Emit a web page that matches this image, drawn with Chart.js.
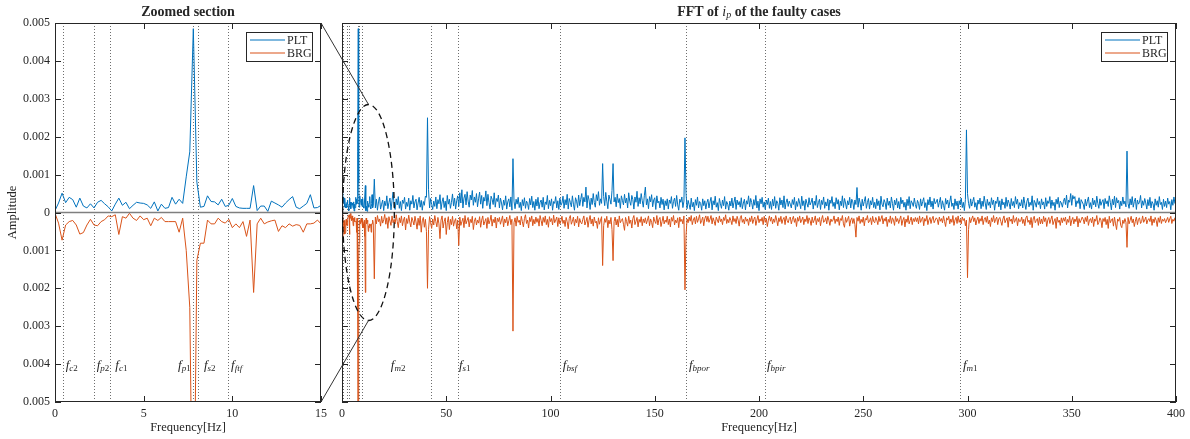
<!DOCTYPE html>
<html>
<head>
<meta charset="utf-8">
<script src="https://cdn.jsdelivr.net/npm/chart.js@4.4.1/dist/chart.umd.min.js"></script>
<style>
  html, body { margin: 0; padding: 0; background: #fff; }
  body { width: 1190px; height: 439px; position: relative; overflow: hidden; }
  .box { position: absolute; top: 0; height: 439px; }
</style>
</head>
<body>
<div class="box" style="left:0;width:340px"><canvas id="zoomCanvas"></canvas></div>
<div class="box" style="left:320px;width:870px"><canvas id="fftCanvas"></canvas></div>
<script>
// FFT of i_p, faulty cases — amplitudes in units of 1e-5, BRG stored as magnitude (drawn downward)
const AMP_UNIT = 1e-5;

// zoomed section: 0..15 Hz, 0.2 Hz bins
const zoomStep = 0.2;
const zoomPLT = [
  5, 25, 51, 26, 40, 34, 14, 38, 17, 12,
  23, 12, 27, 32, 23, 15, 4, 22, 38, 19,
  27, 10, 19, 27, 25, 24, 20, 11, 28, 4,
  22, 11, 13, 40, 22, 35, 24, 94, 160, 485,
  80, 14, 16, 44, 29, 28, 20, 35, 16, 19,
  37, 16, 12, 11, 11, 11, 71, 5, 17, 17,
  3, 30, 25, 20, 14, 25, 34, 42, 14, 10,
  17, 24, 47, 12, 13, 19
];
const zoomBRG = [
  2, 28, 73, 33, 24, 21, 33, 57, 53, 33,
  18, 33, 35, 24, 19, 9, 11, 6, 58, 11,
  15, 2, 15, 21, 9, 19, 15, 35, 15, 21,
  13, 24, 24, 24, 24, 52, 15, 100, 250, 1000,
  126, 81, 81, 20, 30, 30, 15, 24, 28, 18,
  40, 30, 40, 24, 63, 20, 211, 30, 15, 30,
  25, 22, 20, 50, 35, 40, 30, 36, 32, 34,
  52, 30, 30, 28, 20, 30
];

// rest of the spectrum: 15.5..400 Hz, 0.5 Hz bins (one row = 10 Hz)
const restStart = 15.5;
const restStep = 0.5;
const restPLT = [
  88,12,35,6,28,41,9,22,33,5,30,18,44,10,26,38,7,31,54,15,
  8,36,20,42,11,29,5,33,24,40,9,27,16,38,6,31,22,45,12,28,
  35,7,25,40,14,32,6,29,19,43,40,250,60,12,37,21,8,30,16,41,
  10,34,23,47,8,28,39,13,30,5,45,22,35,11,27,49,17,38,9,31,
  44,16,52,25,60,12,38,48,20,55,30,14,46,33,58,19,41,27,50,15,
  36,54,22,45,11,40,30,57,18,48,26,9,43,35,21,52,14,37,29,46,
  12,38,25,7,33,19,44,9,28,36,15,41,6,142,30,10,35,22,40,13,
  27,5,34,18,39,11,30,24,8,37,20,43,13,29,6,35,17,40,10,26,
  33,14,40,7,28,21,45,10,32,18,36,6,29,24,42,12,31,8,38,19,
  25,43,11,34,20,48,9,37,27,15,44,22,6,39,30,13,46,18,35,50,
  16,40,28,67,12,45,33,8,38,21,50,26,14,47,31,55,19,36,24,129,
  42,18,53,30,10,46,35,22,58,129,28,40,15,49,26,37,11,44,32,20,
  48,25,38,12,52,30,19,45,34,9,41,27,56,16,39,23,50,31,14,44,
  67,20,36,10,42,28,47,15,33,39,8,44,25,30,12,40,21,35,7,31,
  18,36,9,33,24,42,11,29,38,16,45,20,6,35,27,41,13,30,197,50,
  10,32,21,8,38,15,27,5,34,19,41,12,29,24,6,36,18,31,9,26,
  35,12,28,40,7,31,20,43,14,26,5,37,23,11,33,18,42,9,29,22,
  6,30,17,38,12,27,41,8,33,20,29,14,39,10,25,35,7,31,22,44,
  15,37,26,9,34,19,45,12,30,5,36,23,40,14,28,8,33,21,38,11,
  29,8,35,17,42,11,31,24,6,39,20,33,13,44,9,27,36,16,30,22,
  12,34,21,40,7,29,16,37,25,10,43,18,31,6,35,24,14,39,20,27,
  38,9,30,19,45,13,26,35,8,32,21,41,11,28,17,36,6,33,24,42,
  16,27,10,39,22,34,7,30,18,44,13,37,25,9,31,20,40,12,35,28,
  8,33,21,66,14,38,25,6,35,17,29,42,11,26,37,9,31,20,40,13,
  27,10,36,18,31,7,43,22,15,34,26,8,38,19,30,12,41,24,6,33,
  20,37,12,29,9,40,23,33,14,27,6,35,18,42,10,31,25,16,38,21,
  11,32,24,8,36,17,29,39,13,26,5,34,20,41,15,30,9,37,23,28,
  35,14,27,40,10,31,19,6,37,22,33,12,28,44,16,25,8,36,18,30,
  9,31,20,38,13,27,5,34,218,50,24,11,36,17,29,40,14,26,7,33,
  22,38,10,30,16,43,25,8,35,19,28,12,39,21,33,6,30,24,41,15,
  31,7,36,20,27,11,40,16,33,24,9,37,18,29,13,42,22,35,10,26,
  17,34,12,41,23,8,30,38,15,27,19,44,6,32,25,14,37,21,29,10,
  36,20,28,9,39,16,31,24,42,11,33,18,27,6,35,22,40,13,30,25,
  14,29,38,21,46,12,33,27,50,19,45,36,42,15,31,24,39,10,34,28,
  22,8,35,17,30,41,13,26,9,38,20,32,15,43,24,11,36,19,28,34,
  10,37,23,31,16,44,27,7,35,20,43,13,39,25,32,9,30,18,41,22,
  30,15,162,24,11,36,20,42,14,29,38,8,33,22,27,45,12,31,19,37,
  25,9,34,18,40,12,29,23,6,36,19,31,14,42,21,27,8,35,16,30,
  13,38,22,29,7,34,19,41,24,32
];
const restBRG = [
  175,12,30,8,24,17,36,10,28,19,5,31,14,42,11,23,34,9,27,18,
  30,6,24,40,14,27,9,35,20,12,46,16,29,7,25,38,13,22,33,10,
  25,44,15,34,9,52,22,13,39,18,50,200,45,11,27,42,17,33,8,24,
  38,13,30,69,20,9,41,24,14,58,27,11,45,18,32,10,36,23,16,43,
  20,87,12,34,24,15,40,8,30,21,13,38,18,27,10,45,23,14,33,20,
  28,11,39,20,9,33,24,16,42,13,30,21,7,36,18,27,12,41,15,24,
  13,31,20,9,38,17,27,12,35,22,8,32,18,313,27,14,36,10,26,20,
  33,10,24,38,16,6,29,20,41,13,24,9,35,18,30,12,26,16,36,8,
  21,35,13,26,9,32,18,39,11,24,16,33,7,27,20,12,37,14,30,23,
  10,29,20,37,13,24,43,16,8,31,23,12,35,18,27,10,38,16,26,30,
  18,9,33,24,13,39,20,8,30,17,36,12,27,23,42,14,31,20,11,140,
  35,16,26,10,40,20,30,13,45,127,24,12,33,18,38,9,27,21,16,31,
  47,13,24,36,10,29,20,41,16,8,32,23,13,38,18,26,11,35,17,27,
  14,30,20,9,35,17,26,40,12,23,29,8,33,18,13,37,24,10,30,20,
  26,10,32,17,38,13,23,8,33,20,27,14,40,12,24,18,30,9,204,60,
  17,27,12,23,8,32,20,13,30,10,26,17,6,29,21,12,35,16,9,24,
  10,26,18,8,30,14,23,34,12,20,27,9,24,17,32,13,21,6,29,18,
  27,13,21,32,9,24,16,29,10,20,36,14,8,26,18,30,12,23,17,34,
  14,24,9,29,18,12,34,20,8,27,17,23,13,32,10,26,16,37,20,9,
  23,12,30,17,26,8,20,35,14,24,10,29,18,13,32,9,21,27,16,12,
  30,18,10,26,16,37,13,23,9,27,20,12,32,17,24,8,29,14,21,34,
  12,27,20,9,32,16,24,13,35,18,8,26,23,14,30,10,20,34,17,24,
  20,9,29,17,24,12,34,16,21,8,30,39,13,26,18,10,36,20,14,29,
  16,32,65,13,23,9,29,18,26,12,35,16,20,8,27,23,14,32,10,24,
  27,13,20,32,10,24,17,8,30,16,23,12,37,18,26,9,29,14,20,34,
  10,24,16,29,18,9,34,20,13,38,17,26,8,30,21,12,32,16,24,13,
  24,14,30,9,26,18,12,35,16,23,8,32,20,13,29,17,10,27,21,14,
  18,32,12,23,16,27,9,24,37,14,20,10,30,17,26,8,34,20,13,29,
  9,26,18,30,12,21,16,35,20,172,45,13,27,17,9,24,14,33,20,12,
  29,16,23,9,32,18,13,26,10,30,20,37,14,24,8,27,18,12,32,17,
  13,24,34,17,9,27,20,14,39,12,23,17,30,8,26,20,13,35,16,24,
  23,12,29,18,35,14,9,26,20,32,13,40,17,10,27,21,16,34,12,30,
  17,30,10,24,14,37,20,13,29,18,9,32,23,16,42,12,26,20,34,14,
  27,14,23,12,32,18,26,9,35,20,13,30,17,24,10,38,16,27,20,12,
  18,30,13,24,9,34,20,16,27,12,37,17,23,8,32,26,14,20,40,16,
  24,13,32,18,42,10,27,20,16,36,12,30,45,17,23,13,34,40,20,29,
  16,26,92,13,30,20,10,27,17,37,23,12,32,18,14,29,24,9,26,20,
  12,30,20,16,24,9,34,17,27,13,21,37,14,26,10,29,18,23,16,27,
  20,13,26,17,10,29,18,23,14,20
];

// characteristic frequencies (Hz) and where their labels start (Hz)
const lowNames = ['c2', 'p2', 'c1', 'p1', 's2', 'ftf'];
const lowFreqs = [0.43, 2.18, 3.12, 7.8, 8.05, 9.76];
const lowLabelX = [0.6, 2.35, 3.4, 6.94, 8.4, 9.93];
const highNames = ['m2', 's1', 'bsf', 'bpor', 'bpir', 'm1'];
const highFreqs = [42.7, 55.5, 104.4, 165.2, 202.9, 296.4];
const highLabelX = [23.4, 56.1, 105.9, 166.4, 203.8, 297.8];
const labelAmp = -0.00405;

// dashed ellipse marking the zoomed area on the full spectrum
const ringCenter = [12.7, 0];
const ringRadius = [12.4, 0.00285];

const FONT = "'Liberation Serif', 'DejaVu Serif', serif";
const INK = '#262626';
const BLUE = '#0072BD';
const ORANGE = '#D95319';

const zoomFreq = zoomPLT.map((_, i) => i * zoomStep);
const restFreq = restPLT.map((_, i) => restStart + i * restStep);
const pts = (xs, vs, sign) => vs.map((v, i) => ({ x: xs[i], y: sign * v * AMP_UNIT }));

let zoomChart = null;

function richText(ctx, parts, x, y, align) {
  let w = 0;
  parts.forEach(p => { ctx.font = p.font; w += ctx.measureText(p.t).width; });
  let cx = align === 'center' ? x - w / 2 : align === 'right' ? x - w : x;
  ctx.textBaseline = 'middle';
  ctx.textAlign = 'left';
  parts.forEach(p => {
    ctx.font = p.font;
    ctx.fillText(p.t, cx, y + (p.dy || 0));
    cx += ctx.measureText(p.t).width;
  });
}

function freqLabel(name) {
  const parts = [{ t: 'f', font: 'italic 13px ' + FONT }];
  for (const ch of name) {
    parts.push({ t: ch, font: (/\d/.test(ch) ? '' : 'italic ') + '9px ' + FONT, dy: 3 });
  }
  return parts;
}

function makeDecor(cfg) {
  return {
    id: 'decor',
    beforeDatasetsDraw(chart) {
      const { ctx, chartArea: a, scales: { x } } = chart;
      ctx.save();
      ctx.strokeStyle = '#6e6e6e';
      ctx.lineWidth = 1;
      ctx.setLineDash([1, 2]);
      cfg.lines.forEach(f => {
        const px = Math.round(x.getPixelForValue(f)) + 0.5;
        ctx.beginPath(); ctx.moveTo(px, a.top); ctx.lineTo(px, a.bottom); ctx.stroke();
      });
      ctx.restore();
    },
    afterDatasetsDraw(chart) {
      const { ctx, chartArea: a, scales: { x, y } } = chart;
      ctx.save();
      // zero line
      const y0 = y.getPixelForValue(0);
      ctx.strokeStyle = '#7f7f7f'; ctx.lineWidth = 1.5;
      ctx.beginPath(); ctx.moveTo(a.left, y0); ctx.lineTo(a.right, y0); ctx.stroke();

      // box and inward ticks
      ctx.strokeStyle = INK; ctx.lineWidth = 1;
      ctx.strokeRect(a.left + 0.5, a.top + 0.5, a.right - a.left - 1, a.bottom - a.top - 1);
      ctx.beginPath();
      x.ticks.forEach(t => {
        const px = Math.round(x.getPixelForValue(t.value)) + 0.5;
        ctx.moveTo(px, a.bottom); ctx.lineTo(px, a.bottom - 6);
        ctx.moveTo(px, a.top); ctx.lineTo(px, a.top + 6);
      });
      y.ticks.forEach(t => {
        const py = Math.round(y.getPixelForValue(t.value)) + 0.5;
        ctx.moveTo(a.left, py); ctx.lineTo(a.left + 6, py);
        ctx.moveTo(a.right, py); ctx.lineTo(a.right - 6, py);
      });
      ctx.stroke();

      // frequency labels
      ctx.fillStyle = INK;
      cfg.names.forEach((n, i) => {
        richText(ctx, freqLabel(n), x.getPixelForValue(cfg.labelX[i]), y.getPixelForValue(labelAmp), 'left');
      });

      // ellipse + connectors to the zoomed panel
      if (cfg.ring) {
        const cx = x.getPixelForValue(ringCenter[0]);
        const cy = y.getPixelForValue(ringCenter[1]);
        const rx = x.getPixelForValue(ringCenter[0] + ringRadius[0]) - cx;
        const ry = cy - y.getPixelForValue(ringCenter[1] + ringRadius[1]);
        ctx.strokeStyle = '#111'; ctx.lineWidth = 1.3;
        ctx.setLineDash([6, 4]);
        ctx.beginPath(); ctx.ellipse(cx, cy, rx, ry, 0, 0, Math.PI * 2); ctx.stroke();
        ctx.setLineDash([]);
        let lx = 0;
        if (zoomChart) {
          lx = zoomChart.canvas.getBoundingClientRect().left + zoomChart.chartArea.right
             - chart.canvas.getBoundingClientRect().left;
        }
        ctx.strokeStyle = '#333'; ctx.lineWidth = 1;
        ctx.beginPath();
        ctx.moveTo(lx, a.top); ctx.lineTo(cx, cy - ry);
        ctx.moveTo(lx, a.bottom); ctx.lineTo(cx, cy + ry);
        ctx.stroke();
      }

      // legend
      const bw = 66, bh = 29;
      const bx = a.right - 9 - bw, by = a.top + 9;
      ctx.fillStyle = '#fff';
      ctx.fillRect(bx, by, bw, bh);
      ctx.strokeStyle = INK; ctx.lineWidth = 1;
      ctx.strokeRect(bx + 0.5, by + 0.5, bw, bh);
      chart.data.datasets.forEach((ds, i) => {
        const ly = by + 8 + i * 13;
        ctx.strokeStyle = ds.borderColor; ctx.lineWidth = 1.2;
        ctx.beginPath(); ctx.moveTo(bx + 4, ly); ctx.lineTo(bx + 39, ly); ctx.stroke();
        ctx.fillStyle = INK; ctx.font = '12px ' + FONT;
        ctx.textAlign = 'left'; ctx.textBaseline = 'middle';
        ctx.fillText(ds.label, bx + 41, ly + 0.5);
      });
      ctx.restore();
    },
    afterDraw(chart) {
      const { ctx, chartArea: a } = chart;
      ctx.save();
      ctx.fillStyle = INK;
      richText(ctx, cfg.title, (a.left + a.right) / 2, 12, 'center');
      ctx.restore();
    }
  };
}

function baseConfig(datasets, xMax, xStep, showY, yWidth, padRight, decor) {
  return {
    type: 'line',
    data: { datasets },
    options: {
      responsive: true,
      maintainAspectRatio: false,
      animation: false,
      events: [],
      parsing: false,
      normalized: true,
      layout: { padding: { top: 23, right: padRight, left: 0, bottom: 0 } },
      elements: { point: { radius: 0 }, line: { borderWidth: 1, tension: 0 } },
      plugins: { legend: { display: false }, tooltip: { enabled: false }, title: { display: false } },
      scales: {
        x: {
          type: 'linear', min: 0, max: xMax,
          grid: { display: false, drawTicks: false },
          border: { display: false },
          ticks: { stepSize: xStep, padding: 5, color: INK, font: { family: FONT, size: 12 }, maxRotation: 0 },
          title: { display: true, text: 'Frequency[Hz]', color: INK, font: { family: FONT, size: 12.5 }, padding: { top: 0, bottom: 4 } },
          afterFit: s => { s.height = 37; }
        },
        y: {
          type: 'linear', min: -0.005, max: 0.005,
          grid: { display: false, drawTicks: false },
          border: { display: false },
          ticks: {
            display: showY, stepSize: 0.001, padding: 5, color: INK,
            font: { family: FONT, size: 12 },
            callback: v => Math.abs(v) < 1e-9 ? '0' : Math.abs(v).toFixed(3)
          },
          title: { display: showY, text: 'Amplitude', color: INK, font: { family: FONT, size: 12.5 }, padding: { top: 5, bottom: 0 } },
          afterFit: s => { s.width = yWidth; }
        }
      }
    },
    plugins: [makeDecor(decor)]
  };
}

const boldT = '700 14px ' + FONT;

zoomChart = new Chart(document.getElementById('zoomCanvas'), baseConfig(
  [
    { label: 'PLT', data: pts(zoomFreq, zoomPLT, 1), borderColor: BLUE, borderWidth: 1 },
    { label: 'BRG', data: pts(zoomFreq, zoomBRG, -1), borderColor: ORANGE, borderWidth: 1 }
  ],
  15, 5, true, 55, 19,
  {
    lines: lowFreqs, names: lowNames, labelX: lowLabelX, ring: false,
    title: [{ t: 'Zoomed section', font: boldT }]
  }
));

const fullFreq = zoomFreq.concat(restFreq);
new Chart(document.getElementById('fftCanvas'), baseConfig(
  [
    { label: 'PLT', data: pts(fullFreq, zoomPLT.concat(restPLT), 1), borderColor: BLUE, borderWidth: 1 },
    { label: 'BRG', data: pts(fullFreq, zoomBRG.concat(restBRG), -1), borderColor: ORANGE, borderWidth: 1 }
  ],
  400, 50, false, 22, 14,
  {
    lines: lowFreqs.concat(highFreqs), names: highNames, labelX: highLabelX, ring: true,
    title: [
      { t: 'FFT of ', font: boldT },
      { t: 'i', font: 'italic 14px ' + FONT },
      { t: 'p', font: 'italic 10px ' + FONT, dy: 3 },
      { t: ' of the faulty cases', font: boldT }
    ]
  }
));
</script>
</body>
</html>
